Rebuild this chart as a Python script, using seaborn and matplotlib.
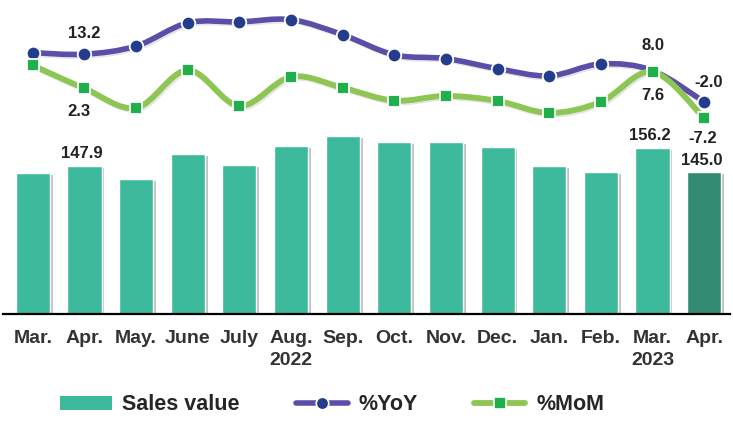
import numpy as np
import pandas as pd
import matplotlib
matplotlib.use('Agg')
import matplotlib.pyplot as plt
import seaborn as sns
from matplotlib.path import Path
from matplotlib.patches import PathPatch, Patch
from matplotlib.lines import Line2D
from matplotlib import patheffects as pe

# Data
tick_labels = ['Mar.', 'Apr.', 'May.', 'June', 'July', 'Aug.\n2022', 'Sep.', 'Oct.',
               'Nov.', 'Dec.', 'Jan.', 'Feb.', 'Mar.\n2023', 'Apr.']
sales = [144.8, 147.9, 141.7, 153.4, 148.2, 157.2, 161.7, 158.8, 159.0, 156.4,
         147.9, 145.0, 156.2, 145.0]
yoy = [13.7, 13.2, 15.8, 23.2, 23.5, 24.2, 19.4, 13.0, 11.8, 8.6, 6.3, 10.1, 8.0, -2.0]
mom = [9.6, 2.3, -3.9, 8.1, -3.3, 6.0, 2.5, -1.6, -0.1, -1.7, -5.5, -2.0, 7.6, -7.2]

TEAL = '#3dba9b'
TEAL_DARK = '#348b73'
YOY_LINE = '#5a4fa8'
YOY_MARK = '#233c8b'
MOM_LINE = '#8dc653'
MOM_MARK = '#1fb04c'

sns.set_theme(style='white')
plt.rcParams['font.family'] = ['Liberation Sans', 'DejaVu Sans']
plt.rcParams['font.weight'] = 'bold'

x = np.arange(len(sales))
df = pd.DataFrame({'pos': x, 'sales': sales, 'yoy': yoy, 'mom': mom})

fig = plt.figure(figsize=(7.33, 4.24), dpi=100)
ax = fig.add_axes([0.0041, 0.2583, 0.9918, 0.73])

# bars
sns.barplot(data=df, x='pos', y='sales', color=TEAL, width=0.66, saturation=1, ax=ax)
for p in ax.patches:
    p.set_path_effects([pe.SimplePatchShadow(offset=(2, -1.5), shadow_rgbFace='#777777', alpha=0.45),
                        pe.Normal()])
ax.patches[-1].set_facecolor(TEAL_DARK)

ax.set_xlim(-0.578, 13.5)
ax.set_ylim(79.4, 222.0)
ax.set_xlabel('')
ax.set_ylabel('')
ax.set_yticks([])
ax.set_xticks(x)
ax.set_xticklabels(tick_labels, fontsize=14, fontweight='bold', color='#333333')
for t in ax.get_xticklabels():
    t.set_linespacing(1.4)
ax.tick_params(axis='x', length=0, pad=11)
for s in ['left', 'right', 'top']:
    ax.spines[s].set_visible(False)
ax.spines['bottom'].set_color('black')
ax.spines['bottom'].set_linewidth(1.6)

# lines on a secondary axis
ax2 = ax.twinx()
ax2.set_ylim(-69.8, 28.9)
ax2.set_yticks([])
for s in ['left', 'right', 'top', 'bottom']:
    ax2.spines[s].set_visible(False)


def smooth_path(xs, ys):
    pts = np.column_stack([xs, ys]).astype(float)
    ext = np.vstack([pts[0], pts, pts[-1]])
    verts = [pts[0]]
    codes = [Path.MOVETO]
    for i in range(len(pts) - 1):
        p0, p1, p2, p3 = ext[i], ext[i + 1], ext[i + 2], ext[i + 3]
        verts += [p1 + (p2 - p0) / 6, p2 - (p3 - p1) / 6, p2]
        codes += [Path.CURVE4] * 3
    return Path(verts, codes)


shadow = [pe.SimpleLineShadow(offset=(1.2, -1.2), shadow_color='#999999', alpha=0.25), pe.Normal()]

ax2.add_patch(PathPatch(smooth_path(df['pos'], df['yoy']), fill=False, edgecolor=YOY_LINE,
                        lw=4.0, capstyle='round', zorder=2, path_effects=shadow))
sns.scatterplot(data=df, x='pos', y='yoy', marker='o', s=95, color=YOY_MARK,
                edgecolor='white', linewidth=1.3, ax=ax2, zorder=3)
ax2.add_patch(PathPatch(smooth_path(df['pos'], df['mom']), fill=False, edgecolor=MOM_LINE,
                        lw=4.2, capstyle='round', zorder=4, path_effects=shadow))
sns.scatterplot(data=df, x='pos', y='mom', marker='s', s=80, color=MOM_MARK,
                edgecolor='white', linewidth=1.3, ax=ax2, zorder=5)
ax2.set_xlabel('')
ax2.set_ylabel('')

# value labels
lab = dict(textcoords='offset points', ha='center', va='center', fontsize=12,
           fontweight='bold', color='#222222')
ax2.annotate(f'{yoy[1]:.1f}', (x[1], yoy[1]), xytext=(0, 15), **lab)
ax2.annotate(f'{mom[1]:.1f}', (x[1], mom[1]), xytext=(-4, -17), **lab)
ax2.annotate(f'{yoy[12]:.1f}', (x[12], yoy[12]), xytext=(0, 18), **lab)
ax2.annotate(f'{mom[12]:.1f}', (x[12], mom[12]), xytext=(0, -17), **lab)
ax2.annotate(f'{yoy[13]:.1f}', (x[13], yoy[13]), xytext=(3, 14), **lab)
ax2.annotate(f'{mom[13]:.1f}', (x[13], mom[13]), xytext=(-1, -14.5), **lab)
for i in [1, 12, 13]:
    ax.annotate(f'{sales[i]:.1f}', (x[i], sales[i]), xytext=(-2, 8.5), **lab)

# legend
handles = [
    Patch(facecolor=TEAL, edgecolor='none'),
    Line2D([0], [0], color=YOY_LINE, lw=4.0, marker='o', markersize=9,
           markerfacecolor=YOY_MARK, markeredgecolor='white', markeredgewidth=1.2),
    Line2D([0], [0], color=MOM_LINE, lw=4.2, marker='s', markersize=8.5,
           markerfacecolor=MOM_MARK, markeredgecolor='white', markeredgewidth=1.2),
]
fig.legend(handles, ['Sales value', '%YoY', '%MoM'], loc='center left',
           bbox_to_anchor=(60 / 733, 19 / 424), ncol=3, frameon=False,
           prop={'size': 15.5, 'weight': 'bold'}, handlelength=2.4, handleheight=0.6,
           handletextpad=0.5, columnspacing=2.6, borderpad=0, borderaxespad=0)

fig.savefig('out.png', dpi=100)
